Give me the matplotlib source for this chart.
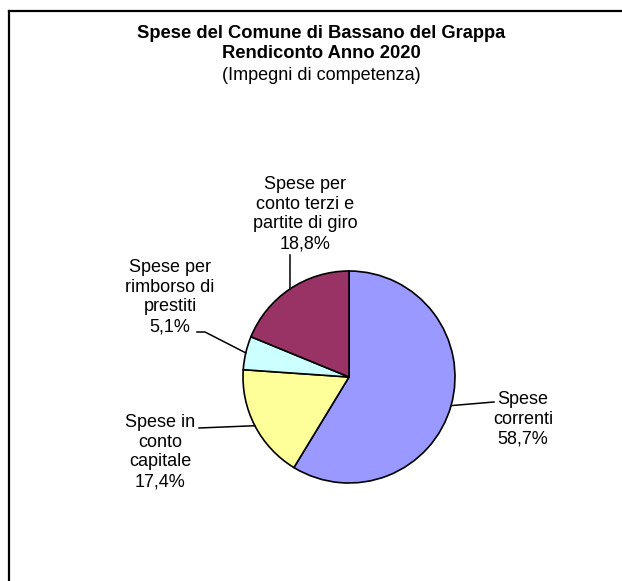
import numpy as np
import matplotlib.pyplot as plt
from matplotlib.lines import Line2D

plt.rcParams['font.family'] = ['Liberation Sans', 'DejaVu Sans']

# Data
categories = ['Spese correnti', 'Spese in conto capitale',
              'Spese per rimborso di prestiti', 'Spese per conto terzi e partite di giro']
labels = ['Spese\ncorrenti', 'Spese in\nconto\ncapitale',
          'Spese per\nrimborso di\nprestiti', 'Spese per\nconto terzi e\npartite di giro']
values = [58.7, 17.4, 5.1, 18.8]
colors = ['#9999FF', '#FFFF99', '#CCFFFF', '#993366']

W, H = 622, 581
CX, CY, R = 349, 377, 106  # pie centre / radius in pixels (from top-left)


def px(x, y):
    # pixel (from top-left) -> data coords of the pie axes
    return (x - CX) / R, (CY - y) / R


fig = plt.figure(figsize=(W / 100, H / 100), dpi=100)
ax = fig.add_axes([0, 0, 1, 1])
wedges, _ = ax.pie(values, colors=colors, startangle=90, counterclock=False,
                   radius=1, wedgeprops=dict(edgecolor='black', linewidth=1.2))
ax.set_xlim(px(0, 0)[0], px(W, 0)[0])
ax.set_ylim(px(0, H)[1], px(0, 0)[1])
ax.set_aspect('auto')
ax.axis('off')

# label centres and leader end points (pixels)
label_pos = [(523, 419), (160, 452), (170, 297), (305, 214)]
leader_end = [[(494, 402)], [(199, 428)], [(205, 332), (197, 332)], [(290, 255)]]

for w, lab, v, pos, ends in zip(wedges, labels, values, label_pos, leader_end):
    mid = np.deg2rad((w.theta1 + w.theta2) / 2)
    xs = [np.cos(mid)] + [px(*p)[0] for p in ends]
    ys = [np.sin(mid)] + [px(*p)[1] for p in ends]
    ax.plot(xs, ys, color='black', linewidth=1.1)
    tx, ty = px(*pos)
    ax.text(tx, ty, lab + '\n' + f'{v:.1f}%'.replace('.', ','),
            ha='center', va='center', fontsize=13, linespacing=1.23)

# titles
fig.text(321 / W, 1 - 33 / H, 'Spese del Comune di Bassano del Grappa',
         ha='center', va='center', fontsize=13.2, fontweight='bold')
fig.text(321 / W, 1 - 54 / H, 'Rendiconto Anno 2020',
         ha='center', va='center', fontsize=13.2, fontweight='bold')
fig.text(321 / W, 1 - 75 / H, '(Impegni di competenza)',
         ha='center', va='center', fontsize=13)

# chart frame (cut at right and bottom)
fx, fy = 8.5 / W, 1 - 10.5 / H
fig.add_artist(Line2D([fx, 1], [fy, fy], color='black', linewidth=1.6))
fig.add_artist(Line2D([fx, fx], [0, fy], color='black', linewidth=1.6))

fig.savefig('out.png', dpi=100, facecolor='white')
